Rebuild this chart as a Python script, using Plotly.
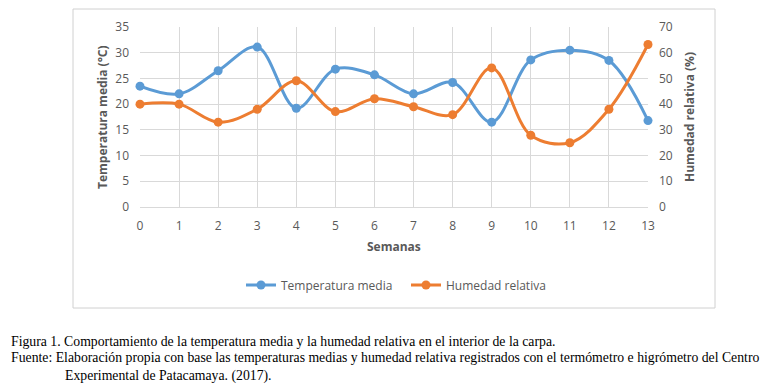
import plotly.graph_objects as go

semanas = list(range(14))
temperatura = [23.5, 22.0, 26.5, 31.1, 19.2, 26.8, 25.7, 22.0, 24.2, 16.5, 28.6, 30.5, 28.5, 16.8]
humedad = [40.0, 40.0, 33.0, 38.0, 49.1, 37.1, 42.1, 39.0, 35.9, 54.1, 27.9, 25.0, 38.0, 63.2]
y1_ticks = [0, 5, 10, 15, 20, 25, 30, 35]
y2_ticks = [0, 10, 20, 30, 40, 50, 60, 70]

BLUE = "#5B9BD5"
ORANGE = "#ED7D31"
GRID = "#D9D9D9"
TXT = "#595959"
FONT = "Open Sans"

W, H = 772, 387
L, R, T, B = 140, 648, 27, 207
pw, ph = R - L, B - T

def px(x):
    return (x - L) / pw

def py(y):
    return (B - y) / ph

fig = go.Figure()
fig.add_trace(go.Scatter(
    x=semanas, y=temperatura, name="Temperatura media", mode="lines+markers",
    line=dict(color=BLUE, width=3, shape="spline", smoothing=1.0),
    marker=dict(color=BLUE, size=9), cliponaxis=False, yaxis="y"))
fig.add_trace(go.Scatter(
    x=semanas, y=humedad, name="Humedad relativa", mode="lines+markers",
    line=dict(color=ORANGE, width=3, shape="spline", smoothing=1.0),
    marker=dict(color=ORANGE, size=9), cliponaxis=False, yaxis="y2"))

fig.update_layout(
    width=W, height=H,
    margin=dict(l=L, r=W - R, t=T, b=H - B),
    paper_bgcolor="white", plot_bgcolor="white",
    font=dict(family=FONT, size=12, color=TXT),
    xaxis=dict(range=[0, 13], tickvals=semanas, showgrid=True, gridcolor=GRID,
               gridwidth=1, zeroline=False, showline=True, linecolor=GRID,
               ticks="", ticklabelstandoff=8,
               tickfont=dict(family=FONT, size=12, color=TXT)),
    yaxis=dict(range=[0, 35], tickvals=y1_ticks, showgrid=True, gridcolor=GRID,
               zeroline=False, showline=False, ticks="", ticklabelstandoff=10,
               tickfont=dict(family=FONT, size=12, color=TXT)),
    yaxis2=dict(range=[0, 70], tickvals=y2_ticks, overlaying="y", side="right",
                showgrid=False, zeroline=False, showline=False, ticks="",
                ticklabelstandoff=10,
                tickfont=dict(family=FONT, size=12, color=TXT)),
    showlegend=True,
    legend=dict(orientation="h", x=px(241), xanchor="left", y=py(285), yanchor="middle",
                font=dict(family=FONT, size=12, color=TXT), itemwidth=30,
                entrywidth=120, entrywidthmode="pixels",
                bgcolor="rgba(0,0,0,0)", traceorder="normal"),
)

# chart area border
fig.add_shape(type="rect", xref="paper", yref="paper",
              x0=px(73), x1=px(715), y0=py(308), y1=py(9),
              line=dict(color="#D0D0D0", width=1), fillcolor="rgba(0,0,0,0)", layer="below")

ann = [
    dict(text="<b>Temperatura media (°C)</b>", x=px(102), y=py(117), textangle=-90,
         font=dict(family=FONT, size=12, color=TXT)),
    dict(text="<b>Humedad relativa (%)</b>", x=px(689), y=py(117), textangle=-90,
         font=dict(family=FONT, size=12, color=TXT)),
    dict(text="<b>Semanas</b>", x=px(394), y=py(246),
         font=dict(family=FONT, size=12, color=TXT)),
]
for a in ann:
    fig.add_annotation(xref="paper", yref="paper", showarrow=False,
                       xanchor="center", yanchor="middle", **a)

SERIF = "Liberation Serif"
caps = [
    ("Figura 1. Comportamiento de la temperatura media y la humedad relativa en el interior de la carpa.", 9, 341),
    ("Fuente: Elaboración propia con base las temperaturas medias y humedad relativa registrados con el termómetro e higrómetro del Centro", 9, 357),
    ("Experimental de Patacamaya. (2017).", 63, 376),
]
for t, x, y in caps:
    fig.add_annotation(xref="paper", yref="paper", showarrow=False, text=t,
                       x=px(x), y=py(y), xanchor="left", yanchor="middle",
                       font=dict(family=SERIF, size=13.75, color="black"))

fig.write_html("out.html", config={"displayModeBar": False},
               post_script="document.body.style.margin='0';document.body.style.overflow='hidden';")
